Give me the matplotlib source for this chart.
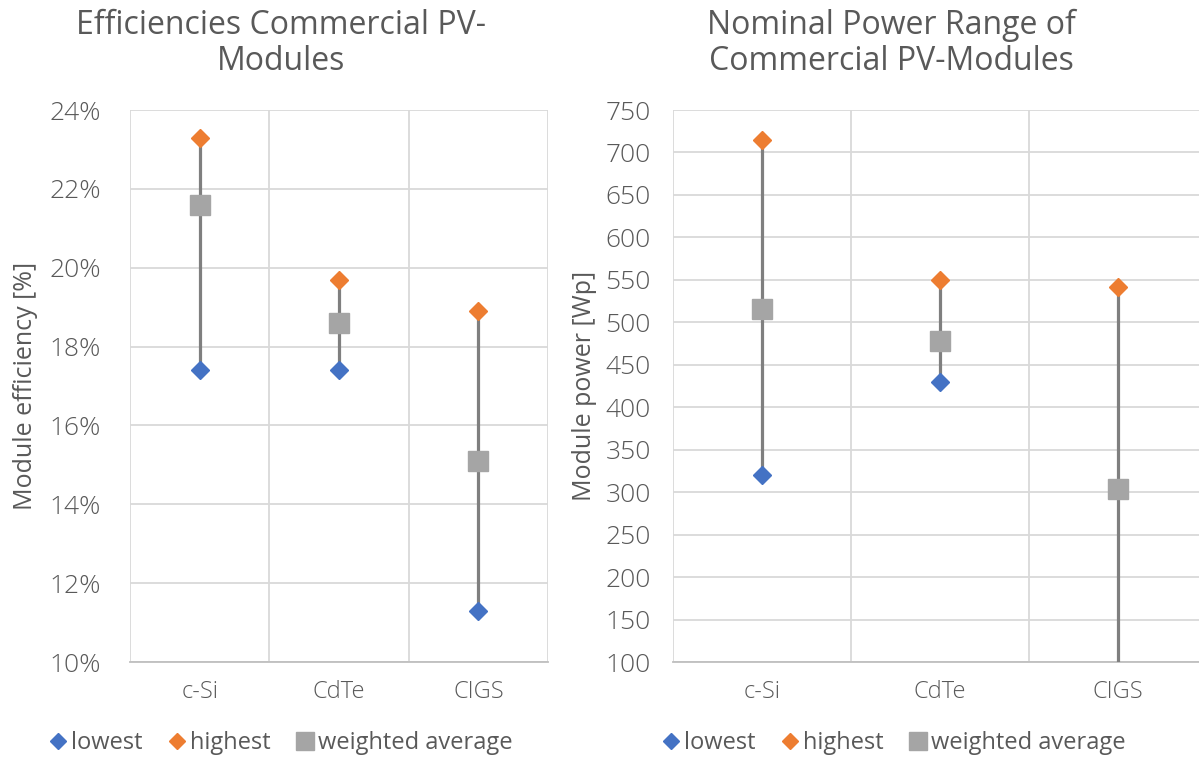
import matplotlib
matplotlib.use('Agg')
import matplotlib.pyplot as plt
from matplotlib.lines import Line2D
import numpy as np

# data
categories = ['c-Si', 'CdTe', 'CIGS']
eff_lowest = [17.4, 17.4, 11.3]
eff_highest = [23.3, 19.7, 18.9]
eff_average = [21.6, 18.6, 15.1]
pow_lowest = [320, 430, 60]
pow_highest = [715, 550, 541]
pow_average = [516, 478, 304]

eff_ticks = [10, 12, 14, 16, 18, 20, 22, 24]
pow_ticks = list(range(100, 751, 50))
legend_labels = ['lowest', 'highest', 'weighted average']

plt.rcParams['font.family'] = ['Open Sans', 'DejaVu Sans']
plt.rcParams['font.weight'] = 'light'   # tick labels thin like in the original
txt = '#595959'
blue = '#4472c4'
orange = '#ed7d31'
grey = '#a5a5a5'

fig = plt.figure(figsize=(11.99, 7.58), dpi=100)
W, H = 1199, 758


def make_ax(left, right, top, bottom):
    return fig.add_axes([left / W, 1 - bottom / H, (right - left) / W, (bottom - top) / H])


def draw(ax, low, high, avg, ticks, fmt, ylabel, pad):
    x = np.arange(len(categories))
    ax.vlines(x, low, high, color='#7f7f7f', lw=2.3, zorder=3)
    ax.plot(x, low, 'D', color=blue, ms=9, ls='none', zorder=4)
    ax.plot(x, high, 'D', color=orange, ms=9, ls='none', zorder=4)
    ax.plot(x, avg, 's', color=grey, ms=15, ls='none', zorder=5)
    ax.set_xlim(-0.5, 2.5)
    ax.set_ylim(ticks[0], ticks[-1])
    ax.set_yticks(ticks)
    ax.set_yticklabels([fmt(t) for t in ticks])
    ax.set_xticks(x)
    ax.set_xticklabels(categories)
    ax.set_xticks([-0.5, 0.5, 1.5, 2.5], minor=True)
    ax.grid(True, axis='y', color='#d9d9d9', lw=1.3)
    ax.grid(True, axis='x', which='minor', color='#d9d9d9', lw=1.3)
    ax.grid(False, axis='x', which='major')
    ax.set_axisbelow(True)
    for s in ['left', 'right', 'top']:
        ax.spines[s].set_visible(False)
    ax.spines['bottom'].set_color('#bfbfbf')
    ax.spines['bottom'].set_linewidth(1.3)
    ax.tick_params(axis='y', length=0, pad=pad, labelsize=19, labelcolor=txt)
    ax.tick_params(axis='x', which='both', length=0, pad=13, labelsize=17, labelcolor=txt)
    ax.set_ylabel(ylabel, fontsize=18, color=txt, fontweight='normal')


ax1 = make_ax(130, 548, 110, 662)
draw(ax1, eff_lowest, eff_highest, eff_average, eff_ticks, lambda t: '%d%%' % t,
     'Module efficiency [%]', 21)
ax1.yaxis.set_label_coords(-92 / 418, 0.5)

ax2 = make_ax(673, 1207, 110, 662)
draw(ax2, pow_lowest, pow_highest, pow_average, pow_ticks, lambda t: '%d' % t,
     'Module power [Wp]', 16)
ax2.yaxis.set_label_coords(-76 / 534, 0.5)

fig.text(281 / W, 1 - 43 / H, 'Efficiencies Commercial PV-\nModules', ha='center', va='center',
         fontsize=23, color=txt, linespacing=1.12, fontweight='normal')
fig.text(891 / W, 1 - 43 / H, 'Nominal Power Range of\nCommercial PV-Modules', ha='center', va='center',
         fontsize=23, color=txt, linespacing=1.12, fontweight='normal')

for lx in [24, 637]:
    handles = [Line2D([], [], marker='D', color=blue, ls='none', ms=8),
               Line2D([], [], marker='D', color=orange, ls='none', ms=8),
               Line2D([], [], marker='s', color=grey, ls='none', ms=13)]
    fig.legend(handles, legend_labels, loc='center left', bbox_to_anchor=(lx / W, 1 - 743 / H), ncol=3,
               frameon=False, labelcolor=txt, handletextpad=0.0,
               columnspacing=0.9, handlelength=1.1,
               prop={'family': ['Open Sans', 'DejaVu Sans'], 'size': 17, 'weight': 'normal'})

fig.savefig('out.png', dpi=100)
